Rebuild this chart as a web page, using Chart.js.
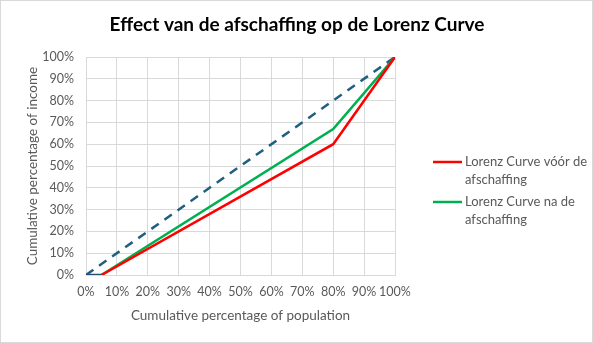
<!DOCTYPE html>
<html>
<head>
<meta charset="utf-8">
<script src="https://cdn.jsdelivr.net/npm/chart.js@4.4.1/dist/chart.umd.min.js"></script>
<style>
    body { margin: 0; background: #ffffff; }
    #wrap { width: 593px; height: 343px; box-sizing: border-box; border: 1px solid #d9d9d9; }
</style>
</head>
<body>
<div id="wrap"><canvas id="canvasLorenz" width="591" height="341"></canvas></div>
<script>
var go = {};

// chart texts
go.title = "Effect van de afschaffing op de Lorenz Curve";
go.xTitle = "Cumulative percentage of population";
go.yTitle = "Cumulative percentage of income";

// x values of the curves (cumulative % of population)
go.equalityX = [0, 100];
go.equalityY = [0, 100];
go.startX = [0, 5];
go.startY = [0, 0];
go.beforeX = [5, 80, 100];
go.beforeY = [0, 60, 100];
go.afterX = [5, 80, 100];
go.afterY = [0, 67, 100];

go.labelBefore = ["Lorenz Curve vóór de", "afschaffing"];
go.labelAfter = ["Lorenz Curve na de", "afschaffing"];

go.font = "Lato, 'Open Sans', sans-serif";
go.gray = "#595959";

//turn two arrays into {x,y} points
function toPoints(xs, ys) {
    var pts = [];
    for (var i = 0; i < xs.length; i++) {
        pts.push({ x: xs[i], y: ys[i] });
    }
    return pts;
}

//draws title and the two-line legend on the right
var textPlugin = {
    id: "textPlugin",
    afterDraw: function (chart) {
        var ctx = chart.ctx;
        ctx.save();
        ctx.fillStyle = "#000000";
        ctx.font = "bold 19px " + go.font;
        ctx.textAlign = "center";
        ctx.textBaseline = "middle";
        ctx.fillText(go.title, 296, 24);

        var items = [
            { color: "#ff0000", lines: go.labelBefore, y: 161 },
            { color: "#00b050", lines: go.labelAfter, y: 201 }
        ];
        ctx.font = "13px " + go.font;
        ctx.textAlign = "left";
        for (var i = 0; i < items.length; i++) {
            var it = items[i];
            ctx.strokeStyle = it.color;
            ctx.lineWidth = 2.5;
            ctx.beginPath();
            ctx.moveTo(432, it.y);
            ctx.lineTo(461, it.y);
            ctx.stroke();
            ctx.fillStyle = go.gray;
            for (var j = 0; j < it.lines.length; j++) {
                ctx.fillText(it.lines[j], 464, it.y + j * 18);
            }
        }
        ctx.restore();
    }
};

function main() {
    var ctx = document.getElementById("canvasLorenz").getContext("2d");

    var config = {
        type: "line",
        data: {
            datasets: [
                {
                    data: toPoints(go.startX, go.startY),
                    borderColor: "#1f4e79",
                    borderWidth: 2.5
                },
                {
                    data: toPoints(go.beforeX, go.beforeY),
                    borderColor: "#ff0000",
                    borderWidth: 2.5
                },
                {
                    data: toPoints(go.afterX, go.afterY),
                    borderColor: "#00b050",
                    borderWidth: 2.5
                },
                {
                    data: toPoints(go.equalityX, go.equalityY),
                    borderColor: "#1f5f7f",
                    borderWidth: 2.5,
                    borderDash: [9, 7]
                }
            ]
        },
        options: {
            responsive: false,
            animation: false,
            elements: { point: { radius: 0 }, line: { tension: 0 } },
            layout: { padding: { top: 56, right: 197, left: 0, bottom: 0 } },
            plugins: {
                legend: { display: false },
                tooltip: { enabled: false }
            },
            scales: {
                x: {
                    type: "linear",
                    min: 0,
                    max: 100,
                    afterFit: function (scale) { scale.height = 67; },
                    ticks: {
                        stepSize: 10,
                        autoSkip: false,
                        color: go.gray,
                        font: { family: go.font, size: 12.5 },
                        padding: 9,
                        maxRotation: 0,
                        callback: function (v) { return v + "%"; }
                    },
                    grid: { color: "#d9d9d9", drawTicks: false },
                    border: { color: "#d9d9d9" },
                    title: {
                        display: true,
                        text: go.xTitle,
                        color: go.gray,
                        font: { family: go.font, size: 13.5 },
                        padding: { top: 0, bottom: 18 }
                    }
                },
                y: {
                    min: 0,
                    max: 100,
                    afterFit: function (scale) { scale.width = 85; },
                    ticks: {
                        stepSize: 10,
                        color: go.gray,
                        font: { family: go.font, size: 12.5 },
                        padding: 12,
                        callback: function (v) { return v + "%"; }
                    },
                    grid: { color: "#d9d9d9", drawTicks: false },
                    border: { color: "#d9d9d9" },
                    title: {
                        display: true,
                        text: go.yTitle,
                        color: go.gray,
                        font: { family: go.font, size: 13.5 },
                        padding: { top: 24 }
                    }
                }
            }
        },
        plugins: [textPlugin]
    };

    go.chart = new Chart(ctx, config);
}

document.addEventListener("DOMContentLoaded", main);
</script>
</body>
</html>
